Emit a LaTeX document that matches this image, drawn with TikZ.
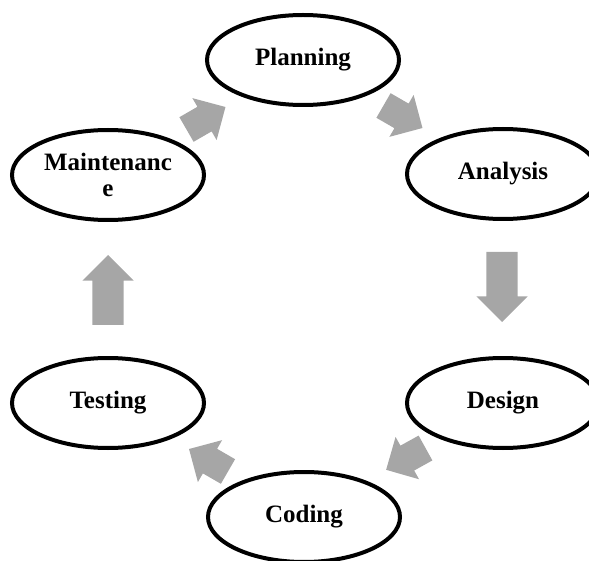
\documentclass[tikz,border=0pt]{standalone}
\usepackage{fontspec}
\setmainfont{Liberation Serif}
\usetikzlibrary{shapes.geometric,shapes.arrows}
\definecolor{arrowgray}{HTML}{A6A6A6}
\begin{document}
\begin{tikzpicture}[x=1pt,y=-1pt,
  stage/.style={ellipse, draw, line width=4pt, minimum width=192pt, minimum height=90pt,
    inner sep=0pt, font=\fontsize{25}{26}\selectfont\bfseries, align=center},
  flow/.style={single arrow, fill=arrowgray, draw=none, minimum height=45pt,
    inner xsep=0pt, inner ysep=14pt, single arrow head extend=10pt,
    single arrow head indent=0pt, anchor=tail, outer sep=0pt},
  longflow/.style={flow, minimum height=70pt, inner ysep=15.5pt,
    single arrow head extend=10pt}]
\useasboundingbox (0,0) rectangle (589,561);
\node[stage] (plan) at (303,60) {Planning};
\node[stage] (anal) at (503,174) {Analysis};
\node[stage] (desi) at (503,403) {Design};
\node[stage] (codi) at (304,517) {Coding};
\node[stage] (test) at (108,403) {Testing};
\node[stage] (main) at (108,175) {Maintenanc\\e};
\node[flow, rotate=30] (a1) at (186.5,129.5) {};
\node[flow, rotate=-30] (a2) at (383.5,105.5) {};
\node[longflow, rotate=-90] (a3) at (502,252) {};
\node[flow, rotate=209] (a4) at (425.5,448) {};
\node[flow, rotate=150] (a5) at (228,471.5) {};
\node[longflow, rotate=90] (a6) at (108,325) {};
\end{tikzpicture}
\end{document}
